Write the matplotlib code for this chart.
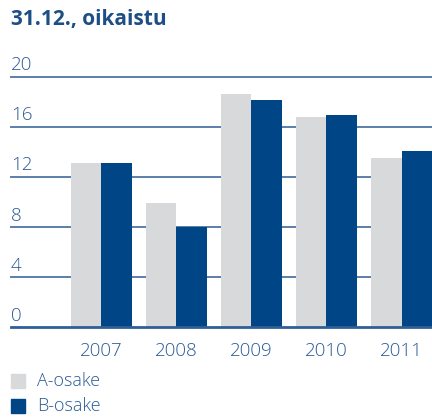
import matplotlib.pyplot as plt
import numpy as np

years = ["2007", "2008", "2009", "2010", "2011"]
a_osake = [13.1, 9.9, 18.6, 16.8, 13.5]
b_osake = [13.1, 8.0, 18.1, 16.9, 14.1]
y_ticks = [0, 4, 8, 12, 16, 20]

grey = "#d8d9db"
blue = "#004687"
text_blue = "#2a5a94"

plt.rcParams["font.family"] = ["Open Sans", "DejaVu Sans"]

fig = plt.figure(figsize=(4.32, 4.19), dpi=100)
ax = fig.add_axes([0.0255, 0.2184, 0.9745, 0.599])

x = np.arange(len(years))
w = 0.405
ax.bar(x - w / 2, a_osake, width=w, color=grey, zorder=2)
ax.bar(x + w / 2, b_osake, width=w, color=blue, zorder=2)

# horizontal grid with labels sitting on top of each line
for t in y_ticks:
    lw = 2.0 if t == 0 else 1.4
    col = "#2f5f97" if t == 0 else "#5a7faa"
    ax.axhline(t, color=col, linewidth=lw, zorder=1 if t else 3, clip_on=False)
    ax.text(0.0, t + 0.2, str(t), transform=ax.get_yaxis_transform(),
            ha="left", va="bottom", fontsize=13.5, fontweight="light",
            color=text_blue)

ax.set_xlim(-1.2, 4 + w)
ax.set_ylim(0, 20)
ax.axis("off")

for xi, label in zip(x, years):
    ax.text(xi, -1.85, label, ha="center", va="center", fontsize=13.5,
            fontweight="light", color=text_blue)

fig.text(0.0255, 0.941, "31.12., oikaistu", ha="left", va="baseline",
         fontsize=15, fontweight="bold", color="#1d4f86")

# legend
for i, (name, col) in enumerate([("A-osake", grey), ("B-osake", blue)]):
    yc = 419 - (381 + 25 * i)
    fig.patches.append(plt.Rectangle((11 / 432, (yc - 7) / 419), 14 / 432, 14 / 419,
                                     transform=fig.transFigure, color=col))
    fig.text(37 / 432, yc / 419, name, ha="left", va="center", fontsize=13,
             fontweight="light", color=text_blue)

fig.savefig("out.png", dpi=100)
